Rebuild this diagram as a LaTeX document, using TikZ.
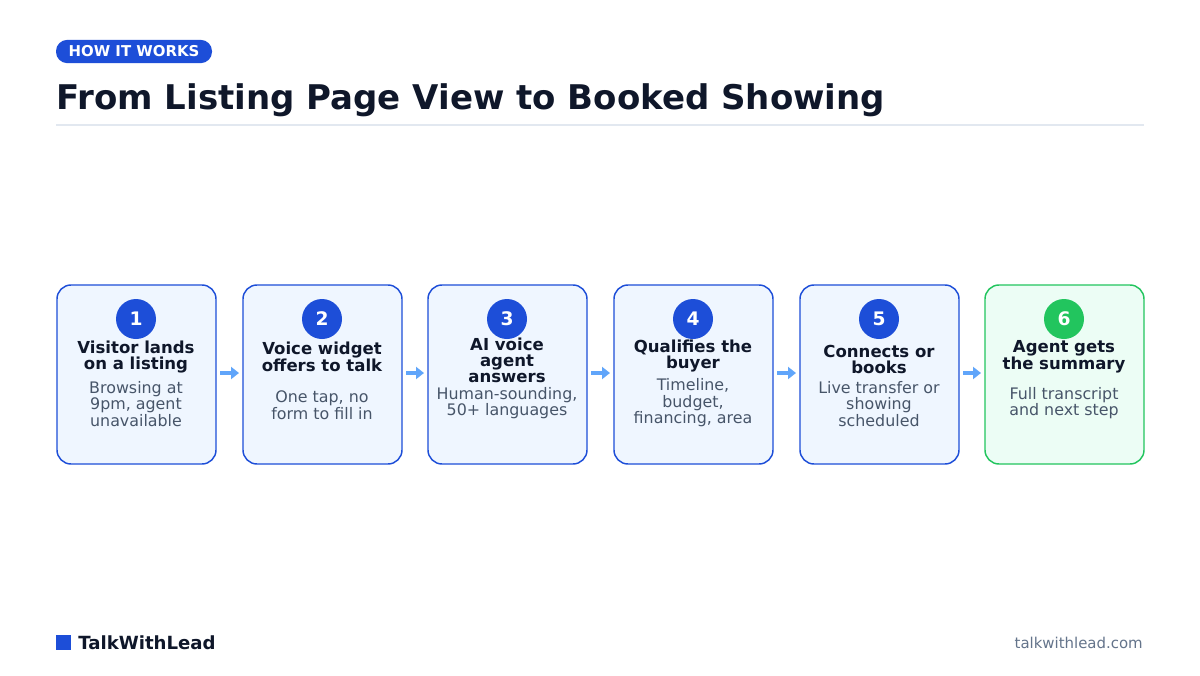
\documentclass[tikz,border=0pt]{standalone}
\usepackage{fontspec}
\setmainfont{DejaVu Sans}
\usetikzlibrary{arrows.meta}
\definecolor{blue}{HTML}{1D4ED8}
\definecolor{bluef}{HTML}{EFF6FF}
\definecolor{navy}{HTML}{0F172A}
\definecolor{slate}{HTML}{475569}
\definecolor{green}{HTML}{22C55E}
\definecolor{greenf}{HTML}{ECFDF5}
\definecolor{arr}{HTML}{60A5FA}
\definecolor{rule}{HTML}{E2E8F0}
\definecolor{foot}{HTML}{64748B}
\begin{document}
\begin{tikzpicture}[x=0.75pt,y=-0.75pt,
 box/.style={draw=blue,fill=bluef,line width=1.1pt,rounded corners=10.5pt},
 gbox/.style={draw=green,fill=greenf,line width=1.1pt,rounded corners=10.5pt},
 num/.style={circle,fill=blue,minimum size=30pt,inner sep=0pt,text=white,font=\bfseries\fontsize{14}{14}\selectfont},
 ttl/.style={align=center,text=navy,font=\bfseries\fontsize{12.4}{12}\selectfont,inner sep=0pt},
 sub/.style={align=center,text=slate,font=\fontsize{11.9}{12.4}\selectfont,inner sep=0pt},
 conn/.style={arr,line width=3pt,-{Triangle[length=6pt,width=9pt]}}]
\useasboundingbox (0,0) rectangle (1200,675);
\fill[white] (0,0) rectangle (1200,675);
\node[fill=blue,rounded corners=8.5pt,minimum width=117pt,minimum height=17.5pt,inner sep=0pt,text=white,font=\bfseries\fontsize{11.2}{12}\selectfont] (pill) at (134,51.5) {HOW IT WORKS};
\node[anchor=base west,inner sep=0pt,text=navy,font=\bfseries\fontsize{25.5}{30}\selectfont] (title) at (56,109) {From Listing Page View to Booked Showing};
\draw[rule,line width=1pt] (56,125) -- (1144,125);
\foreach \i/\x/\st in {1/57/box,2/243/box,3/428/box,4/614/box,5/800/box,6/985/gbox}{
  \draw[\st] (\x,285) rectangle ++(159,179);
  \coordinate (out\i) at (\x+163,373);
  \coordinate (in\i) at (\x-4,373);
}
\node[num] (c1) at (136,319) {1};
\node[num] (c2) at (322,319) {2};
\node[num] (c3) at (507,319) {3};
\node[num] (c4) at (693,319) {4};
\node[num] (c5) at (879,319) {5};
\node[num,fill=green] (c6) at (1064,319) {6};
\node[ttl] (t1) at (136,357) {Visitor lands\\on a listing};
\node[ttl] (t2) at (322,357) {Voice widget\\offers to talk};
\node[ttl] (t3) at (507,360) {AI voice\\agent\\answers};
\node[ttl] (t4) at (693,356) {Qualifies the\\buyer};
\node[ttl] (t5) at (879,359) {Connects or\\books};
\node[ttl] (t6) at (1064,357) {Agent gets\\the summary};
\node[sub] (s1) at (136,404) {Browsing at\\9pm, agent\\unavailable};
\node[sub] (s2) at (322,405) {One tap, no\\form to fill in};
\node[sub] (s3) at (507,403) {Human-sounding,\\50+ languages};
\node[sub] (s4) at (693,403) {Timeline,\\budget,\\financing, area};
\node[sub] (s5) at (879,404) {Live transfer or\\showing\\scheduled};
\node[sub] (s6) at (1064,403) {Full transcript\\and next step};
\foreach \a/\b in {1/2,2/3,3/4,4/5,5/6}{
  \draw[conn] (out\a) -- (in\b);
}
\fill[blue] (56,635) rectangle (71,650);
\node[anchor=west,inner sep=0pt,text=navy,font=\bfseries\fontsize{13.6}{15}\selectfont] (brand) at (78,642.5) {TalkWithLead};
\node[anchor=east,inner sep=0pt,text=foot,font=\fontsize{11.2}{12}\selectfont] (url) at (1143,642.5) {talkwithlead.com};
\end{tikzpicture}
\end{document}
